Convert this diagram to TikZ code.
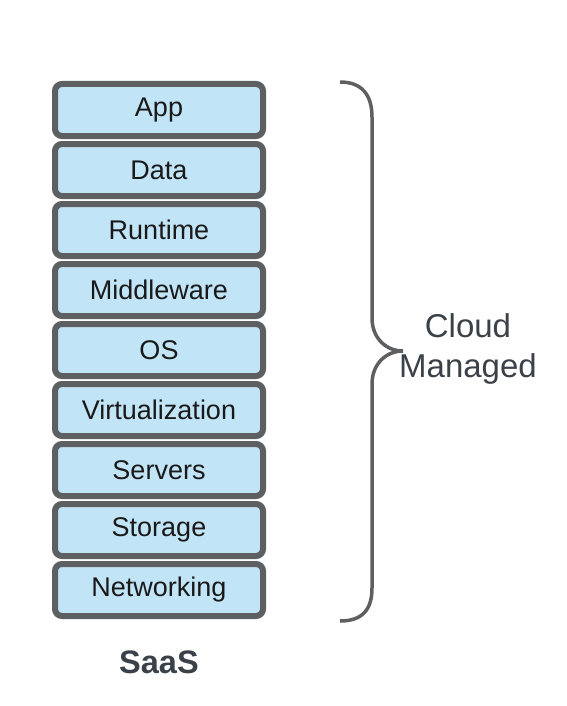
\documentclass[tikz,border=0pt]{standalone}
\usepackage{fontspec}
\setmainfont{Liberation Sans}
\definecolor{layerfill}{HTML}{C2E4F7}
\definecolor{layerline}{HTML}{5E5F60}
\definecolor{labeltext}{HTML}{3A4148}
\tikzset{
  layer/.style={draw=layerline, fill=layerfill, line width=6pt, rounded corners=7pt,
    minimum width=208pt, minimum height=52pt, inner sep=0pt, text=black!90,
    font=\fontsize{27}{32}\selectfont},
}
\begin{document}
\begin{tikzpicture}[x=1pt,y=1pt]
	\useasboundingbox (0,0) rectangle (566,-706);
	\node[layer] (app) at (159,-110) {App};
	\node[layer] (data) at (159,-170) {Data};
	\node[layer] (runtime) at (159,-230) {Runtime};
	\node[layer] (middleware) at (159,-290) {Middleware};
	\node[layer] (os) at (159,-350) {OS};
	\node[layer] (virt) at (159,-410) {Virtualization};
	\node[layer] (servers) at (159,-470) {Servers};
	\node[layer] (storage) at (159,-530) {Storage};
	\node[layer] (net) at (159,-590) {Networking};
	\node[text=labeltext, font=\fontsize{32.5}{38}\selectfont\bfseries] (saas) at (159,-662) {SaaS};
	% brace
	\draw[layerline, line width=3.5pt] (340,-82) .. controls (362,-82) and (372,-95) .. (372,-117)
		-- (372,-318) .. controls (372,-338) and (386,-351) .. (403,-351)
		.. controls (386,-351) and (372,-364) .. (372,-384)
		-- (372,-588) .. controls (372,-610) and (362,-621) .. (340,-621);
	\node[text=labeltext, align=center, font=\fontsize{33}{40}\selectfont] (cloud) at (468,-349) {Cloud\\Managed};
\end{tikzpicture}
\end{document}
